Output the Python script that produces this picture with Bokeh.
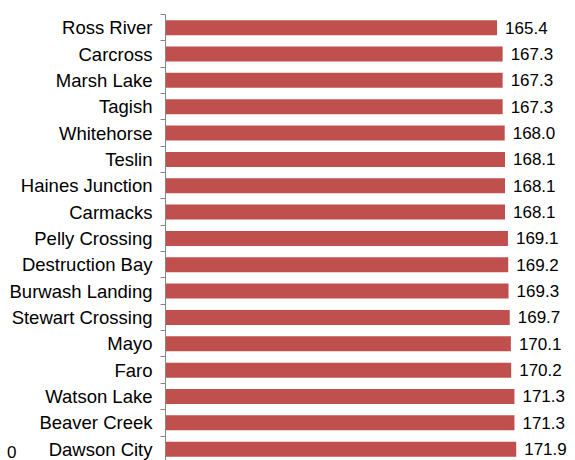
from bokeh.plotting import figure
from bokeh.models import Range1d, FixedTicker, ColumnDataSource, LinearAxis
from bokeh.core.properties import value
from bokeh.embed import file_html
from bokeh.resources import INLINE

communities = ["Ross River", "Carcross", "Marsh Lake", "Tagish", "Whitehorse", "Teslin",
               "Haines Junction", "Carmacks", "Pelly Crossing", "Destruction Bay",
               "Burwash Landing", "Stewart Crossing", "Mayo", "Faro", "Watson Lake",
               "Beaver Creek", "Dawson City"]
prices = [165.4, 167.3, 167.3, 167.3, 168.0, 168.1, 168.1, 168.1, 169.1, 169.2,
          169.3, 169.7, 170.1, 170.2, 171.3, 171.3, 171.9]
stray_tick_label = "0"

n = len(communities)
ypos = [n - 1 - i for i in range(n)]  # first community at top
labels = ["%.1f" % v for v in prices]

src = ColumnDataSource(dict(y=ypos, v=prices, lab=labels, name=communities))

p = figure(width=575, height=460, output_backend="svg", toolbar_location=None,
           x_range=Range1d(53, 192.0), y_range=Range1d(-0.43, n - 0.5),
           x_axis_location=None, min_border_left=165, min_border_right=0,
           min_border_top=14, min_border_bottom=0)
p.outline_line_color = None
p.xgrid.visible = False
p.ygrid.visible = False

p.hbar(y="y", left=53, right="v", height=0.57, source=src,
       fill_color="#C0504D", line_color=None)

p.text(x="v", y="y", text="lab", source=src, x_offset=8,
       text_baseline="middle", text_align="left",
       text_font=value("Liberation Sans"), text_font_size="17px", text_color="#000000")

ax = p.yaxis[0]
ax.ticker = FixedTicker(ticks=ypos, minor_ticks=[k + 0.5 for k in range(-1, n)])
ax.major_label_overrides = {y: name for y, name in zip(ypos, communities)}
ax.major_tick_out = 0
ax.major_tick_in = 0
ax.minor_tick_out = 5
ax.minor_tick_in = 0
ax.minor_tick_line_color = "#868686"
ax.axis_line_color = "#868686"
ax.major_label_standoff = 8
ax.major_label_text_font = "Liberation Sans"
ax.major_label_text_font_size = "18.5px"
ax.major_label_text_color = "#000000"

# stray, partly cut tick label at the bottom-left corner
ax2 = LinearAxis(ticker=FixedTicker(ticks=[-0.1], minor_ticks=[]),
                 major_label_overrides={-0.1: stray_tick_label},
                 axis_line_color=None, major_tick_line_color=None,
                 major_tick_out=0, major_tick_in=0, minor_tick_out=0, minor_tick_in=0,
                 major_label_standoff=-10, major_label_text_baseline="top",
                 major_label_text_font="Liberation Sans",
                 major_label_text_font_size="17px", major_label_text_color="#000000")
p.add_layout(ax2, "left")

open("out.html", "w").write(file_html(p, INLINE))
